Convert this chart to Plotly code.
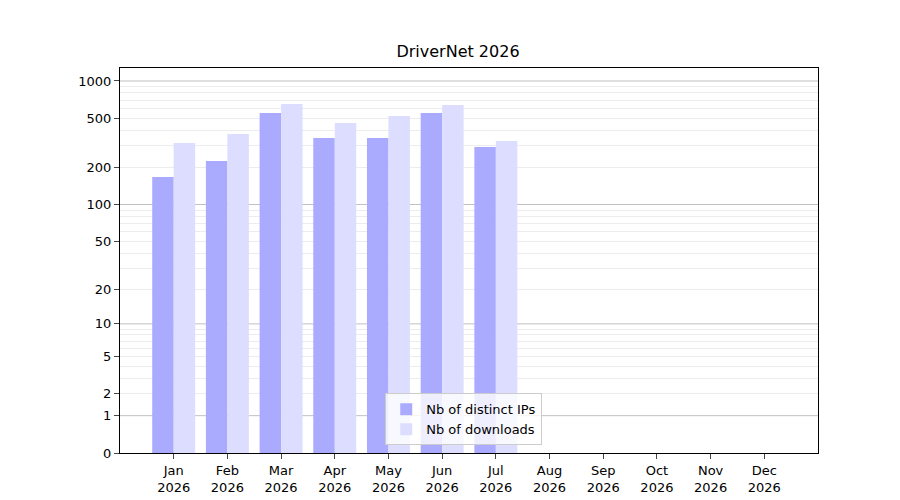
import numpy as np
import plotly.graph_objects as go

months = ["Jan\n2026","Feb\n2026","Mar\n2026","Apr\n2026","May\n2026","Jun\n2026","Jul\n2026",
          "Aug\n2026","Sep\n2026","Oct\n2026","Nov\n2026","Dec\n2026"]
ips = [167, 225, 551, 346, 346, 551, 293]
downloads = [315, 373, 652, 458, 521, 640, 327]
tick_labels = [0, 1, 2, 5, 10, 20, 50, 100, 200, 500, 1000]

def f(v):
    return np.log10(1 + np.asarray(v, dtype=float))

xi = np.arange(len(ips))
labels = [m.replace("\n", "<br>") for m in months]

fig = go.Figure()
fig.add_bar(x=xi - 0.2, y=f(ips), width=0.4, name="Nb of distinct IPs",
            marker=dict(color="#aaaaff", line_width=0))
fig.add_bar(x=xi + 0.2, y=f(downloads), width=0.4, name="Nb of downloads",
            marker=dict(color="#ddddff", line_width=0))

minor = [m * 10**d for d in range(0, 3) for m in range(2, 10)]
for v in [1, 10, 100, 1000]:
    fig.add_shape(type="line", xref="paper", x0=0, x1=1, y0=f(v), y1=f(v),
                  line=dict(color="#c0c0c0", width=1), layer="below")

fig.update_layout(
    width=900, height=500, template="none", plot_bgcolor="white", paper_bgcolor="white",
    margin=dict(l=112, r=90, t=60, b=55, autoexpand=False),
    title=dict(text="DriverNet 2026", x=0.5, xanchor="center", y=0.925, font=dict(size=16, color="black")),
    font=dict(family="DejaVu Sans", size=13, color="black"),
    barmode="overlay", showlegend=True,
    legend=dict(x=0.38, y=0.02, xanchor="left", yanchor="bottom", bgcolor="rgba(255,255,255,0.8)",
                bordercolor="#cccccc", borderwidth=1, font=dict(size=13)),
    xaxis=dict(range=[-1, 12], tickvals=list(range(12)), ticktext=labels, showgrid=False, automargin=False,
               ticks="outside", showline=True, mirror=True, linecolor="black", zeroline=False),
    yaxis=dict(range=[0, 3.105], tickvals=list(f(tick_labels)), ticktext=[str(t) for t in tick_labels],
               showgrid=False, ticks="outside", showline=True, mirror=True, linecolor="black", zeroline=False,
               automargin=False,
               minor=dict(tickvals=list(f(minor)), showgrid=True, gridcolor="#ececec", ticks="")),
)
fig.write_html("out.html")
